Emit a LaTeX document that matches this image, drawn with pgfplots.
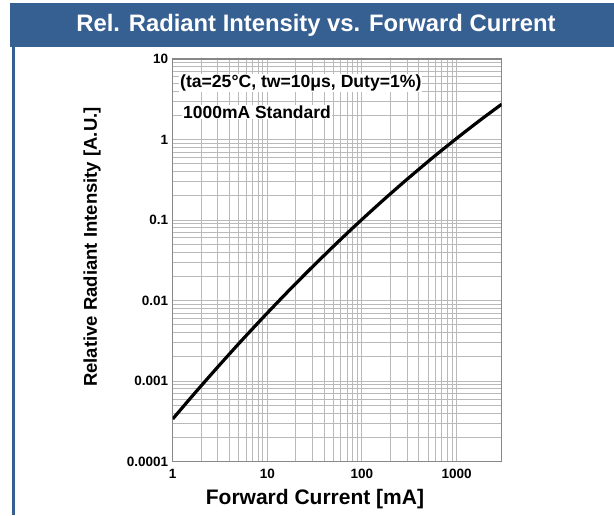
\documentclass[border=0pt]{standalone}
\usepackage{pgfplots}
\pgfplotsset{compat=1.18}
\usepackage{fontspec}
\setmainfont{Liberation Sans}
\definecolor{hdrblue}{RGB}{54,95,146}
\definecolor{gridgray}{RGB}{185,185,185}
\definecolor{framegray}{RGB}{135,135,135}

\begin{document}
\begin{tikzpicture}
  % page frame: 614 x 515, axis box lower-left at origin
  \path[use as bounding box] (-172.7pt,-53.3pt) rectangle (441.3pt,461.7pt);
  \fill[hdrblue] (-162.7pt,414.7pt) rectangle (441.3pt,458.7pt);
  \fill[hdrblue] (-160.7pt,-53.3pt) rectangle (-157.7pt,414.7pt);
  \node[text=white, font=\fontsize{23.8}{27}\selectfont\bfseries] at (143.3pt,436.7pt)
    {Rel. Radiant Intensity vs. Forward Current};

  \begin{axis}[
      scale only axis,
      width  = 329pt,
      height = 402.7pt,
      xmode = log,
      ymode = log,
      xmin = 1, xmax = 3000,
      ymin = 0.0001, ymax = 10,
      xtick = {1,10,100,1000},
      xticklabels = {1,10,100,1000},
      ytick = {0.0001,0.001,0.01,0.1,1,10},
      yticklabels = {0.0001,0.001,0.01,0.1,1,10},
      grid = both,
      major grid style = {gridgray, line width=1pt},
      minor grid style = {gridgray, line width=1pt},
      axis line style = {framegray, line width=1.2pt},
      major tick length = 0pt,
      minor tick length = 0pt,
      tick label style = {font=\fontsize{13.5}{15}\selectfont\bfseries},
      xticklabel style = {yshift=-4pt},
      yticklabel style = {xshift=-1pt},
      xlabel = {Forward Current [mA]},
      ylabel = {Relative Radiant Intensity [A.U.]},
      xlabel style = {at={(axis description cs:0.4325,-0.0926)}, anchor=center,
                      font=\fontsize{21}{24}\selectfont\bfseries},
      ylabel style = {at={(axis description cs:-0.2453,0.533)}, anchor=center,
                      font=\fontsize{18.5}{22}\selectfont\bfseries},
    ]

    \addplot[black, line width=3.2pt, smooth] coordinates {
      (1, 0.000339)
      (1.5, 0.000593)
      (2, 0.000876)
      (3, 0.001504)
      (5, 0.00293)
      (7, 0.00449)
      (10, 0.00702)
      (15, 0.01154)
      (20, 0.01631)
      (30, 0.02629)
      (50, 0.04724)
      (70, 0.0689)
      (100, 0.1018)
      (150, 0.157)
      (200, 0.2122)
      (300, 0.3212)
      (500, 0.5336)
      (700, 0.738)
      (1000, 1.032)
      (1500, 1.495)
      (2000, 1.932)
      (3000, 2.748)
    };

    \node[anchor=west, fill=white, inner sep=1pt,
          font=\fontsize{17.6}{20}\selectfont\bfseries]
      at (axis description cs:0.019,0.9404) {(ta=25°C, tw=10μs, Duty=1\%)};
    \node[anchor=west, fill=white, inner sep=1pt,
          font=\fontsize{17.5}{20}\selectfont\bfseries]
      at (axis description cs:0.028,0.8684) {1000mA Standard};
  \end{axis}
\end{tikzpicture}
\end{document}
